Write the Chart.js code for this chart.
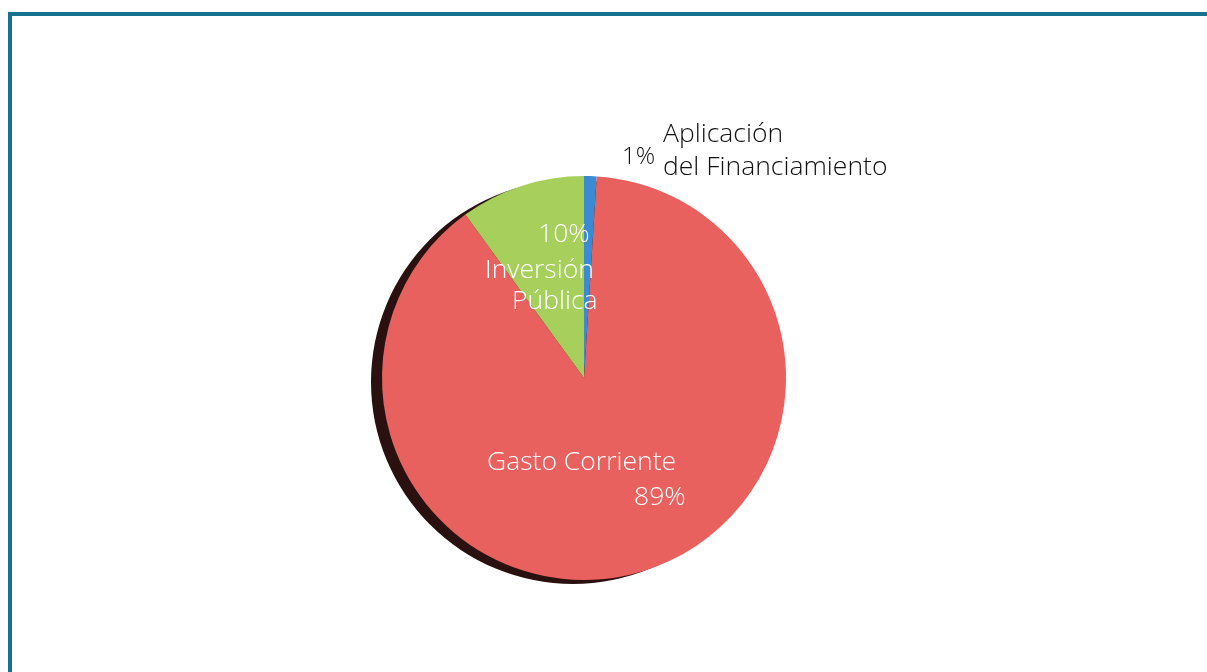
<!DOCTYPE html>
<html>
<head>
<meta charset="utf-8">
<script src="https://cdn.jsdelivr.net/npm/chart.js@4"></script>
<style>
    html, body { margin: 0; padding: 0; background: #fff; }
    #wrap { position: relative; width: 1207px; height: 672px; overflow: hidden; }
    #frame {
        position: absolute; left: 8px; top: 12px; width: 1300px; height: 800px;
        border-top: 4px solid #17728f; border-left: 4px solid #17728f;
    }
    canvas { position: absolute; left: 0; top: 0; }
</style>
</head>
<body>
<div id="wrap">
    <div id="frame"></div>
    <canvas id="pie" width="1207" height="672"></canvas>
</div>
<script>
// slices, clockwise from 12 o'clock
const categories = ["Aplicación del Financiamiento", "Gasto Corriente", "Inversión Pública"];
const shares = [1, 89, 10];
const sliceColors = ["#3c8bd2", "#e9615f", "#a7cf5b"];

// text on / next to each slice: [line, dx, dy, size] -> left edge & baseline relative to the pie centre
const sliceLabels = [
    { color: "#111", lines: [["Aplicación", 79, -236, 26.5], ["1%", 38, -214, 24], ["del Financiamiento", 79, -203, 26.5]] },
    { color: "#fff", lines: [["Gasto Corriente", -97, 92, 26.5], ["89%", 50, 127, 26.5]] },
    { color: "#fff", lines: [["10%", -46, -136, 26.5], ["Inversión", -99, -100, 26.5], ["Pública", -72, -69, 26.5]] }
];

const shadowPlugin = {
    id: "pieShadow",
    beforeDatasetsDraw(chart) {
        const arc = chart.getDatasetMeta(0).data[0];
        if (!arc) return;
        const ctx = chart.ctx;
        ctx.save();
        ctx.fillStyle = "#2b1010";
        ctx.beginPath();
        ctx.arc(arc.x - 11, arc.y + 4, arc.outerRadius, 0, Math.PI * 2);
        ctx.fill();
        ctx.restore();
    }
};

const labelPlugin = {
    id: "sliceText",
    afterDatasetsDraw(chart) {
        const arcs = chart.getDatasetMeta(0).data;
        const ctx = chart.ctx;
        ctx.save();
        ctx.textBaseline = "alphabetic";
        ctx.textAlign = "left";
        sliceLabels.forEach((lab, i) => {
            const arc = arcs[i];
            ctx.fillStyle = lab.color;
            lab.lines.forEach(([txt, dx, dy, size]) => {
                ctx.font = `300 ${size}px 'Open Sans', 'Noto Sans', sans-serif`;
                ctx.fillText(txt, arc.x + dx, arc.y + dy);
            });
        });
        ctx.restore();
    }
};

new Chart(document.getElementById("pie").getContext("2d"), {
    type: "pie",
    data: {
        labels: categories,
        datasets: [{
            data: shares,
            backgroundColor: sliceColors,
            borderWidth: 0
        }]
    },
    options: {
        responsive: false,
        animation: false,
        layout: { padding: { left: 284, right: 323, top: 176, bottom: 92 } },
        plugins: {
            legend: { display: false },
            tooltip: { enabled: false }
        }
    },
    plugins: [shadowPlugin, labelPlugin]
});
</script>
</body>
</html>
